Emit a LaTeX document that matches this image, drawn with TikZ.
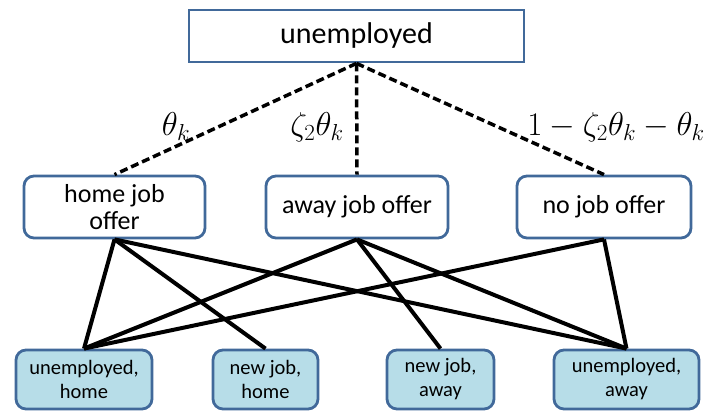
\RequirePackage{fix-cm}
\documentclass[tikz,border=0pt]{standalone}
\usepackage{fontspec}
\setmainfont{Carlito}
\begin{document}
\begin{tikzpicture}[x=1pt,y=-1pt,
  topbox/.style={draw=boxblue,line width=2.8pt,fill=white,minimum width=335pt,minimum height=52pt,inner sep=0pt,font=\fontsize{30}{32}\selectfont},
  midbox/.style={draw=boxblue,line width=2.8pt,fill=white,rounded corners=10pt,minimum height=62pt,inner sep=0pt,align=center,font=\fontsize{26}{27}\selectfont},
  botbox/.style={draw=boxblue,line width=2.8pt,fill=lightblue,rounded corners=10pt,minimum height=59pt,inner sep=0pt,align=center,font=\fontsize{20.5}{24}\selectfont},
  dashline/.style={line width=3.5pt,dash pattern=on 8pt off 4pt},
  solidline/.style={line width=4pt},
  problabel/.style={inner sep=0pt,font=\fontsize{33}{35}\selectfont}]
\definecolor{boxblue}{HTML}{41699A}
\definecolor{lightblue}{HTML}{B7DDE8}
\useasboundingbox (0,0) rectangle (712,411);
\node[topbox] (top) at (356.5,36) {unemployed};
\node[midbox,minimum width=181pt] (home) at (114.5,207) {home job\\offer};
\node[midbox,minimum width=182pt] (away) at (357,207) {away job offer};
\node[midbox,minimum width=174pt] (none) at (604,207) {no job offer};
\node[botbox,minimum width=136pt] (uh) at (84,379.5) {unemployed,\\home};
\node[botbox,minimum width=105pt] (nh) at (265.5,379.5) {new job,\\home};
\node[botbox,minimum width=107pt] (na) at (440.5,379.5) {new job,\\away};
\node[botbox,minimum width=145pt] (ua) at (626.5,379.5) {unemployed,\\away};
\draw[dashline] (top.south) -- (home.north);
\draw[dashline] (top.south) -- (away.north);
\draw[dashline] (top.south) -- (none.north);
\node[problabel] (l1) at (176,127) {$\theta_k$};
\node[problabel] (l2) at (317,127) {$\zeta_2\theta_k$};
\node[problabel] (l3) at (616,127) {$1-\zeta_2\theta_k-\theta_k$};
\draw[solidline] (home.south) -- (uh.north);
\draw[solidline] (home.south) -- (nh.north);
\draw[solidline] (home.south) -- (ua.north);
\draw[solidline] (away.south) -- (uh.north);
\draw[solidline] (away.south) -- (na.north);
\draw[solidline] (away.south) -- (ua.north);
\draw[solidline] (none.south) -- (uh.north);
\draw[solidline] (none.south) -- (ua.north);
\end{tikzpicture}
\end{document}
